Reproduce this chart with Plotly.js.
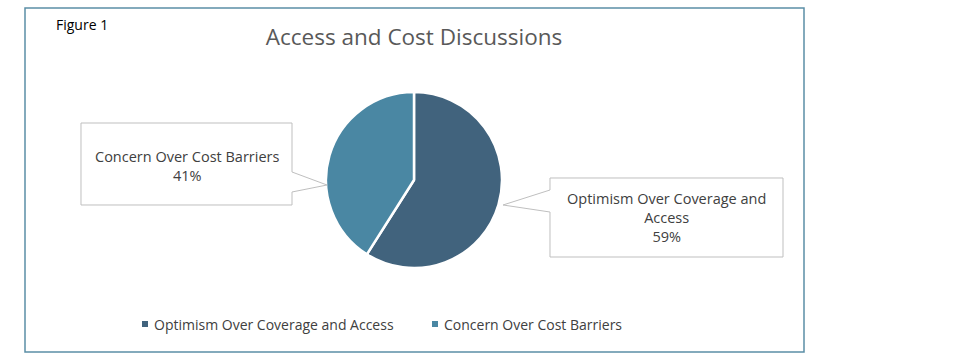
<!DOCTYPE html>
<html>
<head>
<meta charset="utf-8">
<script src="https://cdn.plot.ly/plotly-3.0.1.min.js"></script>
<style>html,body{margin:0;padding:0;background:#fff;}#chart{width:980px;height:360px;}</style>
</head>
<body>
<div id="chart"></div>
<script>
// ---- data ----
const categories = ["Optimism Over Coverage and Access", "Concern Over Cost Barriers"];
const values = [59, 41];
const sliceColors = ["#41637D", "#4A87A3"];
const calloutLabels = ["Optimism Over Coverage and<br>Access<br>59%", "Concern Over Cost Barriers<br>41%"];
const chartTitle = "Access and Cost Discussions";
const figureLabel = "Figure 1";

// ---- helpers for pixel -> paper conversion ----
const W = 980, H = 360;
const px = x => x / W;
const py = y => 1 - y / H;
const pathStr = pts => "M" + pts.map(p => px(p[0]).toFixed(5) + "," + py(p[1]).toFixed(5)).join(" L") + " Z";

const FONT = "Open Sans, Inter, sans-serif";
const TXT = "#404040";

const trace = {
  type: "pie",
  labels: categories,
  values: values,
  sort: false,
  direction: "clockwise",
  rotation: 0,
  textinfo: "none",
  hoverinfo: "label+percent",
  marker: {colors: sliceColors, line: {color: "#ffffff", width: 2.5}},
  domain: {x: [px(414 - 88), px(414 + 88)], y: [py(268), py(92)]},
  showlegend: false
};

const shapes = [
  // outer border
  {type: "rect", xref: "paper", yref: "paper", x0: px(25), x1: px(804), y0: py(352), y1: py(8),
   line: {color: "#5B8EA6", width: 1.5}, fillcolor: "rgba(0,0,0,0)"},
  // left callout
  {type: "path", xref: "paper", yref: "paper",
   path: pathStr([[81,123],[292,123],[292,172],[327,185],[292,192],[292,205],[81,205]]),
   line: {color: "#BFBFBF", width: 1}, fillcolor: "#ffffff"},
  // right callout
  {type: "path", xref: "paper", yref: "paper",
   path: pathStr([[550,178],[783,178],[783,257],[550,257],[550,212],[503,205],[550,190]]),
   line: {color: "#BFBFBF", width: 1}, fillcolor: "#ffffff"}
];

// legend squares
const legendSquareX = [142, 432];
const legendTextX = [152, 442];
categories.forEach((c, i) => {
  shapes.push({type: "rect", xref: "paper", yref: "paper",
    x0: px(legendSquareX[i]), x1: px(legendSquareX[i] + 6), y0: py(327), y1: py(321),
    line: {width: 0}, fillcolor: sliceColors[i]});
});

const annotations = [
  {text: figureLabel, xref: "paper", yref: "paper", x: px(54), y: py(25), xanchor: "left", yanchor: "middle",
   showarrow: false, font: {family: FONT, size: 14, color: "#000000"}},
  {text: calloutLabels[1], xref: "paper", yref: "paper", x: px(187), y: py(166), xanchor: "center", yanchor: "middle",
   showarrow: false, font: {family: FONT, size: 14.5, color: TXT}},
  {text: calloutLabels[0], xref: "paper", yref: "paper", x: px(666), y: py(218), xanchor: "center", yanchor: "middle",
   showarrow: false, font: {family: FONT, size: 14.5, color: TXT}}
];
categories.forEach((c, i) => {
  annotations.push({text: c, xref: "paper", yref: "paper", x: px(legendTextX[i]), y: py(324),
    xanchor: "left", yanchor: "middle", showarrow: false, font: {family: FONT, size: 14, color: TXT}});
});

const layout = {
  width: W, height: H,
  margin: {l: 0, r: 0, t: 0, b: 0},
  paper_bgcolor: "#ffffff",
  plot_bgcolor: "#ffffff",
  title: {text: chartTitle, xref: "paper", yref: "paper", x: px(414), y: py(37), xanchor: "center", yanchor: "middle",
          font: {family: FONT, size: 22.5, color: "#595959"}},
  showlegend: false,
  shapes: shapes,
  annotations: annotations
};

Plotly.newPlot("chart", [trace], layout, {displayModeBar: false, staticPlot: true});
</script>
</body>
</html>
